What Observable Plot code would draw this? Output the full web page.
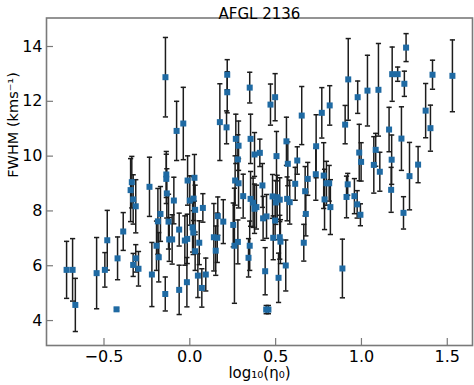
<!DOCTYPE html>
<html><head><meta charset="utf-8">
<script src="https://cdn.jsdelivr.net/npm/d3@7"></script>
<script src="https://cdn.jsdelivr.net/npm/@observablehq/plot@0.6"></script>
<style>body{margin:0;background:#fff}svg{font-family:"DejaVu Sans",sans-serif}</style>
</head><body><div id="chart"></div>
<script>
const title = "AFGL 2136";
const xLabel = "log₁₀(η₀)";
const yLabel = "FWHM (kms⁻¹)";
const xTicks = [-0.5, 0.0, 0.5, 1.0, 1.5];
const yTicks = [4, 6, 8, 10, 12, 14];

const logEta = [
-0.718,-0.683,-0.667,-0.543,-0.495,-0.481,-0.427,-0.421,-0.388,-0.345,
-0.338,-0.330,-0.315,-0.330,-0.315,-0.299,-0.235,-0.221,-0.194,-0.186,
-0.181,-0.171,-0.142,-0.137,-0.137,-0.134,-0.143,-0.124,-0.120,-0.103,
-0.093,-0.077,-0.062,-0.062,-0.038,-0.029,-0.017,-0.013,0.000,-0.015,
0.027,0.022,0.031,0.016,0.020,0.031,0.055,0.076,0.047,0.070,
0.093,0.140,0.151,0.160,0.163,0.195,0.175,0.218,0.218,0.214,
0.253,0.260,0.268,0.284,0.280,0.264,0.284,0.280,0.311,0.349,
0.354,0.377,0.408,0.354,0.369,0.377,0.388,0.349,0.342,0.423,
0.427,0.447,0.439,0.445,0.458,0.470,0.497,0.505,0.482,0.501,
0.509,0.524,0.497,0.486,0.524,0.528,0.517,0.559,0.563,0.571,
0.567,0.582,0.614,0.626,0.652,0.664,0.676,0.672,0.687,
0.736,0.734,0.769,0.815,0.780,0.785,0.796,0.812,0.819,0.923,
0.905,0.920,0.913,0.889,0.959,0.975,0.994,0.978,0.987,0.998,
1.035,1.099,1.072,1.083,1.107,1.161,1.179,1.211,1.250,1.260,
1.176,1.173,1.233,1.280,1.245,1.330,1.374,1.402,1.414,1.530
];
const fwhm = [
5.85,5.85,4.57,5.73,5.85,6.93,4.41,6.27,7.25,8.76,
9.05,8.42,8.17,6.03,6.27,5.89,8.88,5.68,6.73,7.62,
6.31,7.89,12.88,9.33,9.17,8.64,4.97,7.61,6.96,6.96,
8.38,10.92,7.32,5.12,11.19,6.92,5.40,9.11,8.38,6.98,
9.21,8.45,8.04,7.40,7.21,6.53,6.84,8.11,5.64,5.19,
5.68,7.04,6.55,7.02,7.81,7.61,11.24,12.97,12.33,11.05,
7.49,6.73,10.63,10.38,9.88,9.11,9.01,6.87,8.54,12.50,
10.63,10.06,10.12,8.44,8.30,8.08,8.14,6.73,6.29,8.93,
7.73,7.80,5.80,4.40,4.40,11.88,12.15,10.00,8.53,8.31,
8.50,8.41,7.65,7.02,7.04,6.88,5.56,6.01,10.54,9.72,
8.44,8.32,8.99,9.84,11.48,6.84,7.89,8.72,9.17,
10.36,9.34,11.58,11.85,9.29,8.42,9.01,9.01,8.14,12.80,
11.15,8.97,8.51,5.90,8.54,8.24,7.86,12.15,10.13,9.79,
12.39,12.42,9.68,10.23,9.43,10.97,12.99,12.99,12.64,13.96,
9.87,8.77,10.64,9.27,7.93,9.69,11.66,11.02,12.97,12.93
];
const fwhmErr = [
1.04,1.14,0.97,1.30,0.63,1.09,0.05,0.78,0.69,1.15,
0.94,0.90,0.97,0.42,0.50,0.63,1.08,1.17,0.90,1.20,
0.90,1.00,1.45,0.84,0.90,0.90,0.62,1.00,0.80,0.90,
0.85,1.08,0.60,0.90,1.32,0.90,0.90,0.90,0.90,0.90,
0.85,0.80,0.90,0.90,0.80,0.70,0.80,0.52,0.80,0.70,
0.60,1.23,0.90,0.90,0.70,0.80,1.40,0.55,0.75,0.60,
0.80,2.10,0.90,0.90,0.90,0.90,0.90,0.80,0.80,0.56,
0.90,0.80,0.50,1.00,0.90,0.90,0.80,0.90,0.70,0.80,
0.80,0.80,0.86,0.15,0.15,0.75,0.86,0.90,0.80,0.80,
0.80,0.80,0.70,0.80,0.80,0.80,0.90,0.93,0.88,0.80,
0.80,0.80,0.60,0.50,1.06,0.67,0.80,0.90,0.60,
1.15,0.95,0.92,0.72,1.20,1.10,0.80,0.65,1.00,1.49,
0.70,0.40,0.76,1.07,0.64,0.50,0.40,0.59,1.03,0.70,
1.29,1.69,1.03,0.60,0.71,0.81,0.99,0.26,0.46,0.51,
0.90,0.82,1.16,1.23,0.59,0.66,0.99,0.84,0.53,1.31
];

const data = logEta.map((x, i) => ({x, y: fwhm[i], lo: fwhm[i] - fwhmErr[i], hi: fwhm[i] + fwhmErr[i]}));

const W = 474, H = 385, mL = 46, mR = 2, mT = 17.5, mB = 40;
const frameW = W - mL - mR, frameH = H - mT - mB;
const cap = {draw(ctx) { ctx.moveTo(-2.6, 0); ctx.lineTo(2.6, 0); }};
const square = {draw(ctx) { ctx.rect(-3, -3, 6, 6); }};
const barColor = "#1c1c1c";
const markColor = "#1f6aa3";
const axisColor = "#7a7a7a";

const plot = Plot.plot({
  width: W, height: H,
  marginLeft: mL, marginRight: mR, marginTop: mT, marginBottom: mB,
  style: {fontFamily: "DejaVu Sans", background: "white", color: "black"},
  x: {domain: [-0.835, 1.647]},
  y: {domain: [3.09, 15.04]},
  marks: [
    Plot.ruleX(data, {x: "x", y1: "lo", y2: "hi", stroke: barColor, strokeWidth: 1.5}),
    Plot.dot(data, {x: "x", y: "lo", symbol: cap, r: 1, fill: "none", stroke: barColor, strokeWidth: 1.5}),
    Plot.dot(data, {x: "x", y: "hi", symbol: cap, r: 1, fill: "none", stroke: barColor, strokeWidth: 1.5}),
    Plot.dot(data, {x: "x", y: "y", symbol: square, r: 1, fill: markColor, stroke: "none"}),
    Plot.tickX(xTicks, {x: d => d, insetTop: frameH - 7, stroke: axisColor, strokeWidth: 1.2}),
    Plot.tickY(yTicks, {y: d => d, insetRight: frameW - 7, stroke: axisColor, strokeWidth: 1.2}),
    Plot.axisX(xTicks, {tickSize: 0, tickPadding: 5, fontSize: 16, tickFormat: d3.format(".1f"), label: null}),
    Plot.axisY(yTicks, {tickSize: 0, tickPadding: 4, fontSize: 16, label: null}),
    Plot.frame({stroke: axisColor, strokeWidth: 1.6}),
    Plot.text([title], {frameAnchor: "top", dy: -9.5, fontSize: 15, fill: "black"}),
    Plot.text([xLabel], {frameAnchor: "bottom", dy: 32.5, fontSize: 15, fill: "black"}),
    Plot.text([yLabel], {frameAnchor: "left", dx: -33, dy: -4, rotate: -90, fontSize: 14.5, fill: "black"})
  ]
});
document.getElementById("chart").appendChild(plot);
</script>
</body></html>
